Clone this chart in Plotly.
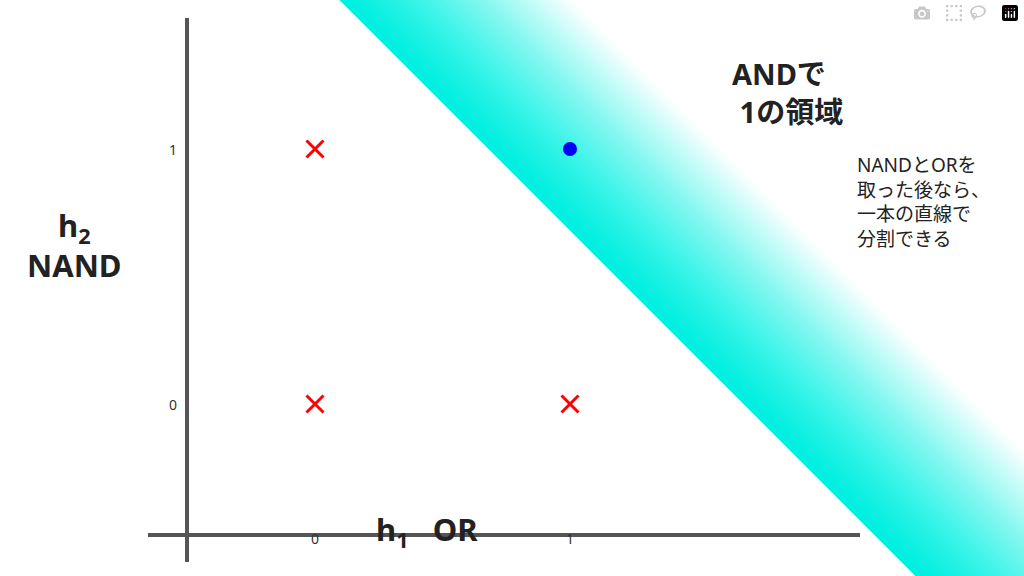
import plotly.graph_objects as go

x_cross = [0, 1, 0]
y_cross = [0, 0, 1]
x_dot = [1]
y_dot = [1]
tick_vals = [0, 1]
tick_labels = ["0", "1"]
band_start, band_end = 1.68, 2.6

fig = go.Figure()
n = 50
for i in range(n):
    s1 = band_start + (band_end - band_start) * i / n
    s2 = band_start + (band_end - band_start) * (i + 1) / n + 0.005
    t = (i / (n - 1)) ** 1.3
    r = int(0 + 255 * t); g = int(240 + 15 * t); b = int(225 + 30 * t)
    fig.add_trace(go.Scatter(x=[s1 + 3, s1 - 3, s2 - 3, s2 + 3], y=[-3, 3, 3, -3],
                             fill="toself", mode="none", fillcolor=f"rgb({r},{g},{b})",
                             hoverinfo="skip", showlegend=False))

fig.add_trace(go.Scatter(x=x_cross, y=y_cross, mode="markers",
                         marker=dict(symbol="x-thin", size=17, line=dict(color="red", width=3)),
                         showlegend=False))
fig.add_trace(go.Scatter(x=x_dot, y=y_dot, mode="markers",
                         marker=dict(color="blue", size=14), showlegend=False))

ax = dict(visible=False, fixedrange=True)
fig.update_layout(width=1024, height=576, margin=dict(l=0, r=0, t=0, b=0),
                  plot_bgcolor="white", paper_bgcolor="white",
                  xaxis=dict(range=[-315/255, 709/255], **ax),
                  yaxis=dict(range=[-172/255, 404/255], **ax),
                  font=dict(family="Noto Sans, Noto Sans CJK JP"))

gray = "#555555"
fig.add_shape(type="line", xref="paper", yref="paper", x0=187/1024, x1=187/1024,
              y0=1-18/576, y1=1-562/576, line=dict(color=gray, width=4))
fig.add_shape(type="line", xref="paper", yref="paper", x0=148/1024, x1=860/1024,
              y0=1-535/576, y1=1-535/576, line=dict(color=gray, width=4))

for v, lab in zip(tick_vals, tick_labels):
    fig.add_annotation(x=v, y=1-550/576, yref="paper", text=lab, showarrow=False,
                       font=dict(size=14, color="#333"))
    fig.add_annotation(x=167/1024, xref="paper", y=v, text=lab, showarrow=False,
                       font=dict(size=14, color="#333"))

fig.add_annotation(x=25/1024, y=1-245/576, xref="paper", yref="paper", xanchor="left",
                   text="<b>h<sub>2</sub><br>NAND</b>", showarrow=False, font=dict(size=31, color="#222"))
fig.add_annotation(x=374/1024, y=1-556/576, xref="paper", yref="paper", xanchor="left",
                   text="<b>h<sub>1</sub>   OR</b>", showarrow=False, font=dict(size=31, color="#222"))
fig.add_annotation(x=730/1024, y=1-52/576, xref="paper", yref="paper", xanchor="left",
                   align="left", text="<b>ANDで<br> 1の領域</b>", showarrow=False,
                   font=dict(size=29, color="#222"))
fig.add_annotation(x=855/1024, y=1-202/576, xref="paper", yref="paper", xanchor="left",
                   align="left", text="NANDとORを<br>取った後なら、<br>一本の直線で<br>分割できる",
                   showarrow=False, font=dict(size=19, color="#222"))

fig.write_html("out.html")
with open("out.html", encoding="utf-8") as f:
    html = f.read()
html = html.replace("<body>", "<body style=\"margin:0;overflow:hidden\">", 1)
with open("out.html", "w", encoding="utf-8") as f:
    f.write(html)
